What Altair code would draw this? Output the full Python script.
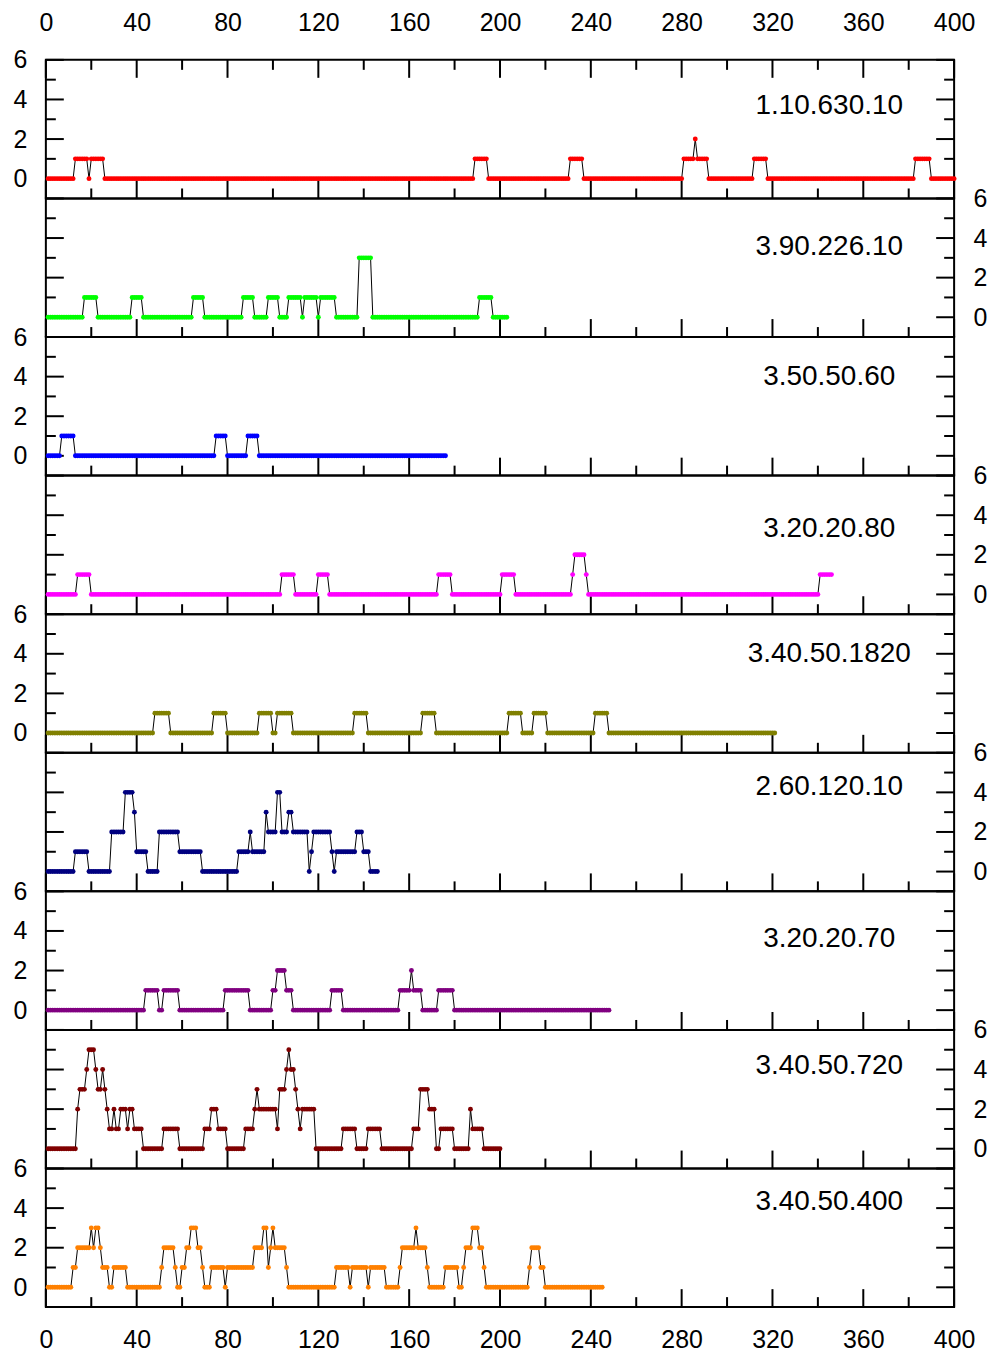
import altair as alt
import pandas as pd

# Per-residue counts, stored as runs: level of each run and the last residue of that run.
p1_levels = [0, 1, 0, 1, 0, 1, 0, 1, 0, 1, 2, 1, 0, 1, 0, 1, 0]
p1_ends = [12, 18, 19, 25, 188, 194, 230, 236, 280, 285, 286, 291, 311, 317, 382, 389, 400]

p2_levels = [0, 1, 0, 1, 0, 1, 0, 1, 0, 1, 0, 1, 0, 1, 0, 1, 0, 3, 0, 1, 0]
p2_ends = [16, 22, 37, 42, 64, 69, 86, 91, 97, 102, 106, 112, 113, 119, 120, 127, 137, 143, 190, 196, 203]

p3_levels = [0, 1, 0, 1, 0, 1, 0]
p3_ends = [6, 12, 74, 79, 88, 93, 176]

p4_levels = [0, 1, 0, 1, 0, 1, 0, 1, 0, 1, 0, 1, 2, 1, 0, 1]
p4_ends = [13, 19, 103, 109, 119, 124, 172, 178, 200, 206, 231, 232, 237, 238, 340, 346]

p5_levels = [0, 1, 0, 1, 0, 1, 0, 1, 0, 1, 0, 1, 0, 1, 0, 1, 0, 1, 0]
p5_ends = [47, 54, 73, 79, 93, 99, 101, 108, 135, 141, 165, 171, 203, 209, 214, 220, 241, 247, 321]

p6_levels = [0, 1, 0, 2, 4, 3, 1, 0, 2, 1, 0, 1, 2, 1, 3, 2, 4, 2, 3, 2, 0, 1, 2, 1, 0, 1, 2, 1, 0]
p6_ends = [12, 18, 28, 34, 38, 39, 44, 49, 58, 68, 84, 89, 90, 96, 97, 101, 103, 106, 108, 115,
           116, 117, 125, 126, 127, 136, 139, 142, 146]

p7_levels = [0, 1, 0, 1, 0, 1, 0, 1, 2, 1, 0, 1, 0, 1, 2, 1, 0, 1, 0]
p7_ends = [43, 49, 51, 58, 78, 89, 99, 101, 105, 108, 125, 130, 155, 160, 161, 165, 172, 179, 248]

p8_levels = [0, 2, 3, 4, 5, 4, 3, 4, 3, 2, 1, 2, 1, 2, 1, 2, 1, 0, 1, 0, 1, 2, 1, 0, 1, 2, 3, 2,
             1, 3, 4, 5, 4, 3, 2, 1, 2, 0, 1, 0, 1, 0, 1, 3, 2, 0, 1, 0, 2, 1, 0]
p8_ends = [13, 14, 17, 18, 21, 22, 24, 25, 26, 27, 29, 30, 32, 35, 36, 38, 42, 51, 58, 69, 72, 75,
           79, 87, 91, 92, 93, 101, 102, 105, 106, 107, 109, 110, 111, 112, 118, 130, 136, 141,
           147, 161, 164, 168, 171, 173, 179, 186, 187, 192, 200]

p9_levels = [0, 1, 2, 3, 2, 3, 2, 1, 0, 1, 0, 1, 2, 1, 0, 1, 2, 3, 2, 1, 0, 1, 0, 1, 2, 3, 1, 2,
             3, 2, 1, 0, 1, 0, 1, 0, 1, 0, 1, 2, 3, 2, 1, 0, 1, 0, 1, 2, 3, 2, 1, 0, 1, 2, 1, 0]
p9_ends = [11, 13, 19, 20, 21, 23, 24, 27, 29, 35, 50, 51, 56, 57, 59, 61, 63, 66, 68, 69, 72, 78,
           79, 91, 95, 97, 98, 99, 100, 105, 106, 127, 133, 134, 141, 142, 149, 155, 156, 162,
           163, 167, 168, 175, 181, 183, 184, 187, 190, 192, 193, 212, 213, 217, 219, 245]

panel_names = ["1.10.630.10", "3.90.226.10", "3.50.50.60", "3.20.20.80", "3.40.50.1820",
               "2.60.120.10", "3.20.20.70", "3.40.50.720", "3.40.50.400"]
panel_colors = ["#ff0000", "#00ff00", "#0000ff", "#ff00ff", "#808000",
                "#000080", "#800080", "#800000", "#ff8000"]
panel_runs = [(p1_levels, p1_ends), (p2_levels, p2_ends), (p3_levels, p3_ends),
              (p4_levels, p4_ends), (p5_levels, p5_ends), (p6_levels, p6_ends),
              (p7_levels, p7_ends), (p8_levels, p8_ends), (p9_levels, p9_ends)]
name_height = [3.65, 3.55, 4.0, 3.3, 4.0, 4.25, 3.6, 4.2, 4.3]

x_ticks = list(range(0, 401, 40))
x_minor = list(range(20, 400, 40))
y_labels = [0, 2, 4, 6]
y_minor = [1, 3, 5]

FONT = "Liberation Sans"
W, H = 911, 139
MAJOR, MINOR = 18, 10

xs = alt.Scale(domain=[0, 400], nice=False, zero=False)
ys = alt.Scale(domain=[-1, 6], nice=False, zero=False)


def expand(levels, ends):
    rows, start = [], 1
    for lv, end in zip(levels, ends):
        for r in range(start, end + 1):
            rows.append({"res": r, "n": lv})
        start = end + 1
    return pd.DataFrame(rows)


def make_axis(orient, values, pad):
    return alt.Axis(orient=orient, values=values, labelPadding=pad, ticks=False, tickSize=0,
                    domain=False, grid=False, title=None, labelFont=FONT, labelFontSize=25,
                    labelColor="black", labelFlush=False, labelOverlap=False)


def panel(i):
    levels, ends = panel_runs[i]
    df = expand(levels, ends)
    if i % 2 == 0:
        y_axis = make_axis("left", y_labels, 19)
    else:
        y_axis = make_axis("right", y_labels, 19)
    if i == 0:
        x_axis = make_axis("top", x_ticks, 24)
    elif i == len(panel_runs) - 1:
        x_axis = make_axis("bottom", x_ticks, 21)
    else:
        x_axis = None

    def X(f):
        return alt.X(f, type="quantitative", scale=xs, axis=x_axis)

    def Y(f):
        return alt.Y(f, type="quantitative", scale=ys, axis=y_axis)

    line = alt.Chart(df).mark_line(color="black", strokeWidth=1).encode(x=X("res"), y=Y("n"))
    dots = alt.Chart(df).mark_circle(color=panel_colors[i], size=24, opacity=1).encode(
        x=X("res"), y=Y("n"))
    label = alt.Chart(pd.DataFrame({"res": [345], "n": [name_height[i]],
                                    "t": [panel_names[i]]})).mark_text(
        font=FONT, fontSize=28, align="center", baseline="middle", color="black"
    ).encode(x=X("res"), y=Y("n"), text="t:N")

    ymaj = pd.DataFrame({"n": y_labels})
    ymin = pd.DataFrame({"n": y_minor})
    xmaj = pd.DataFrame({"res": x_ticks})
    xmin = pd.DataFrame({"res": x_minor})
    tk = dict(color="black", strokeWidth=2)
    ticks = [
        alt.Chart(ymaj).mark_rule(**tk).encode(y=Y("n"), x=alt.value(0), x2=alt.value(MAJOR)),
        alt.Chart(ymin).mark_rule(**tk).encode(y=Y("n"), x=alt.value(0), x2=alt.value(MINOR)),
        alt.Chart(ymaj).mark_rule(**tk).encode(y=Y("n"), x=alt.value(W), x2=alt.value(W - MAJOR)),
        alt.Chart(ymin).mark_rule(**tk).encode(y=Y("n"), x=alt.value(W), x2=alt.value(W - MINOR)),
        alt.Chart(xmaj).mark_rule(**tk).encode(x=X("res"), y=alt.value(H), y2=alt.value(H - MAJOR)),
        alt.Chart(xmin).mark_rule(**tk).encode(x=X("res"), y=alt.value(H), y2=alt.value(H - MINOR)),
    ]
    if i == 0:
        ticks += [
            alt.Chart(xmaj).mark_rule(**tk).encode(x=X("res"), y=alt.value(0), y2=alt.value(MAJOR)),
            alt.Chart(xmin).mark_rule(**tk).encode(x=X("res"), y=alt.value(0), y2=alt.value(MINOR)),
        ]
    return alt.layer(*ticks, line, dots, label).properties(width=W, height=H)


chart = alt.vconcat(*[panel(i) for i in range(len(panel_runs))], spacing=0,
                    bounds="flush").properties(
    padding={"left": 12, "top": 8, "right": 5, "bottom": 0},
    background="white",
).configure_view(
    stroke="black", strokeWidth=2
)

chart.save("out.html", embed_options={"renderer": "svg", "actions": False})
